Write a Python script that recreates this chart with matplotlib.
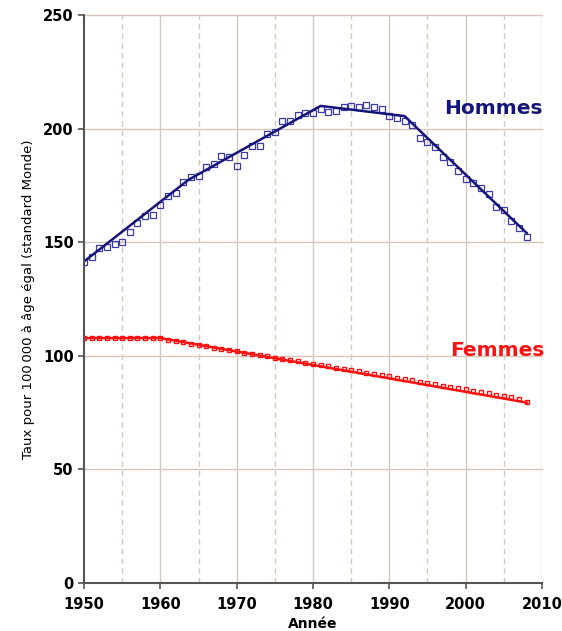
import numpy as np
import matplotlib
matplotlib.use("Agg")
import matplotlib.pyplot as plt

plt.rcParams['font.family'] = ['DejaVu Sans']

# observed rates, one point per year
years = np.arange(1950, 2009)
hommes = [141.4, 143.3, 147.3, 148.0, 149.2, 150.2, 154.6, 158.6, 161.5, 162.0,
          166.4, 170.3, 171.8, 176.6, 178.6, 179.1, 183.0, 184.4, 187.9, 187.4,
          183.5, 188.2, 192.3, 192.5, 197.6, 198.6, 203.3, 203.2, 206.1, 206.7,
          206.9, 208.5, 207.2, 207.7, 209.7, 210.1, 209.7, 210.4, 209.7, 208.6,
          205.5, 204.5, 203.3, 201.6, 195.7, 193.9, 192.0, 187.4, 185.4, 181.5,
          177.8, 175.9, 173.7, 171.1, 165.6, 164.2, 159.5, 156.1, 152.2]
femmes = [107.8, 107.8, 107.8, 107.8, 107.8, 107.8, 107.8, 107.8, 107.8, 107.8,
          107.8, 107.0, 106.5, 105.9, 105.3, 104.8, 104.2, 103.6, 103.0, 102.4,
          101.9, 101.4, 100.8, 100.2, 99.7, 99.1, 98.6, 98.1, 97.6, 97.0,
          96.4, 95.9, 95.3, 94.8, 94.2, 93.7, 93.1, 92.5, 92.0, 91.4,
          90.9, 90.3, 89.7, 89.2, 88.6, 88.0, 87.5, 86.9, 86.4, 85.8,
          85.2, 84.6, 84.1, 83.5, 82.9, 82.3, 81.7, 81.1, 79.5]

# fitted (joinpoint) trends
h_fit_x = [1950, 1963.7, 1981, 1992, 2008]
h_fit_y = [141.5, 177.5, 210, 205.5, 154]
f_fit_x = [1950, 1960, 2008]
f_fit_y = [107.8, 107.8, 79.4]

navy = '#14147a'
red = '#ff1010'
grid_c = '#d6c6bc'

fig = plt.figure(figsize=(5.62, 6.31), dpi=100)
ax = fig.add_axes([0.1495, 0.0761, 0.8149, 0.9001])

for x in range(1960, 2011, 10):
    ax.axvline(x, color=grid_c, lw=1, zorder=0)
for x in range(1955, 2010, 10):
    ax.axvline(x, color=grid_c, lw=1, ls=(0, (4, 3)), zorder=0)
for y in range(50, 251, 50):
    ax.axhline(y, color=grid_c, lw=1, zorder=0, clip_on=False)

ax.plot(years, hommes, ls='none', marker='s', ms=3.8, mfc='none', mec='#3a3aa8', mew=0.9)
ax.plot(h_fit_x, h_fit_y, color=navy, lw=1.8)
ax.plot(years, femmes, ls='none', marker='s', ms=3.2, mfc='none', mec=red, mew=1)
ax.plot(f_fit_x, f_fit_y, color=red, lw=1.8)

ax.text(2003.6, 209, 'Hommes', color=navy, fontsize=14.5, fontweight='bold',
        ha='center', va='center')
ax.text(2004.1, 102.5, 'Femmes', color=red, fontsize=14.5, fontweight='bold',
        ha='center', va='center')

ax.set_xlim(1950, 2010)
ax.set_ylim(0, 250)
ax.set_xticks(range(1950, 2011, 10))
ax.set_yticks(range(0, 251, 50))
for lab in ax.get_xticklabels() + ax.get_yticklabels():
    lab.set_fontweight('bold')
    lab.set_fontsize(10.5)
ax.tick_params(direction='out', length=4, color='#555555', width=1.2)
ax.tick_params(axis='x', pad=6)
ax.spines['top'].set_visible(False)
ax.spines['right'].set_visible(False)
ax.spines['left'].set_color('#555555')
ax.spines['bottom'].set_color('#555555')
ax.spines['left'].set_linewidth(1.5)
ax.spines['bottom'].set_linewidth(1.5)

ax.set_ylabel('Taux pour 100\u2009000 à âge égal (standard Monde)', fontsize=9.5, labelpad=6)
ax.set_xlabel('Année', fontsize=10, fontweight='bold', labelpad=4)

fig.savefig('out.png', dpi=100)
